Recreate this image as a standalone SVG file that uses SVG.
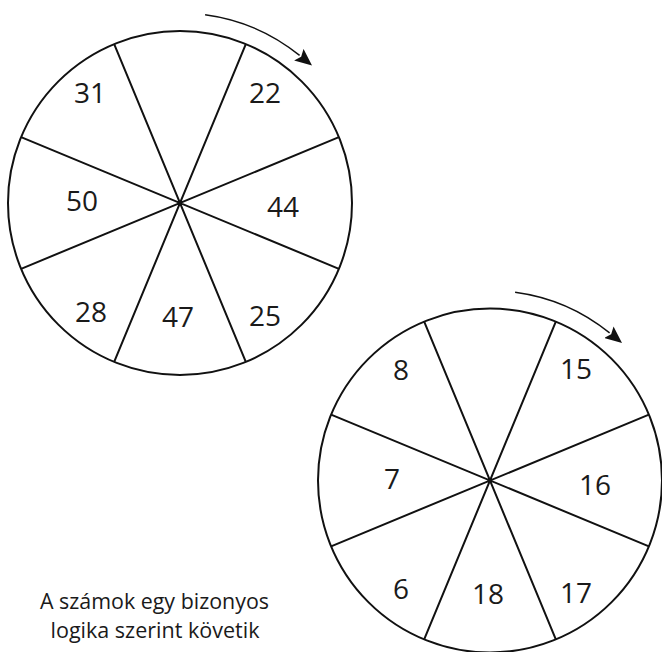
<svg xmlns="http://www.w3.org/2000/svg" width="662" height="652" viewBox="0 0 662 652">
<style>
.rim{fill:#fff;stroke:#111;stroke-width:2}
.spoke{stroke:#111;stroke-width:2;fill:none}
.num{font-family:"Open Sans","Liberation Sans",sans-serif;font-size:28px;fill:#1a1a1a;text-anchor:middle}
.cap{font-family:"Open Sans","Liberation Sans",sans-serif;font-size:21px;fill:#1a1a1a;text-anchor:middle}
.arc{fill:none;stroke:#111;stroke-width:1.4}
</style>
<defs>
<marker id="ah" markerUnits="userSpaceOnUse" markerWidth="17" markerHeight="15" viewBox="0 0 17 15" refX="1" refY="7.5" orient="auto">
<path d="M0,0 L17,7.5 L0,15 L3,7.5 z" fill="#111"/>
</marker>
</defs>
<rect width="662" height="652" fill="#fff"/>
<g id="wheel1">
<circle class="rim" cx="180" cy="203" r="172"/>
<path class="spoke" d="M114.18,44.09 L245.82,361.91 M245.82,44.09 L114.18,361.91 M21.09,137.18 L338.91,268.82 M21.09,268.82 L338.91,137.18"/>
<text class="num" x="90" y="102.6">31</text>
<text class="num" x="265" y="102.6">22</text>
<text class="num" x="82" y="211">50</text>
<text class="num" x="283" y="217">44</text>
<text class="num" x="91" y="321.7">28</text>
<text class="num" x="178" y="327">47</text>
<text class="num" x="265" y="326.3">25</text>
</g>
<g id="wheel2">
<circle class="rim" cx="490" cy="480.5" r="172"/>
<path class="spoke" d="M424.18,321.59 L555.82,639.41 M555.82,321.59 L424.18,639.41 M331.09,414.68 L648.91,546.32 M331.09,546.32 L648.91,414.68"/>
<text class="num" x="401" y="380.3">8</text>
<text class="num" x="576" y="379.3">15</text>
<text class="num" x="392" y="488.8">7</text>
<text class="num" x="595" y="495">16</text>
<text class="num" x="401" y="599.2">6</text>
<text class="num" x="488" y="604">18</text>
<text class="num" x="576" y="603.3">17</text>
</g>
<g id="connectors">
<path class="arc" d="M205.1,14.7 A190,190 0 0 1 299.6,55.4" marker-end="url(#ah)"/>
<path class="arc" d="M515.1,292.2 A190,190 0 0 1 609.6,332.9" marker-end="url(#ah)"/>
</g>
<g id="caption">
<text class="cap" x="154.5" y="609.3" textLength="229" lengthAdjust="spacingAndGlyphs">A számok egy bizonyos</text>
<text class="cap" x="155" y="638" textLength="209" lengthAdjust="spacingAndGlyphs">logika szerint követik</text>
</g>
</svg>
